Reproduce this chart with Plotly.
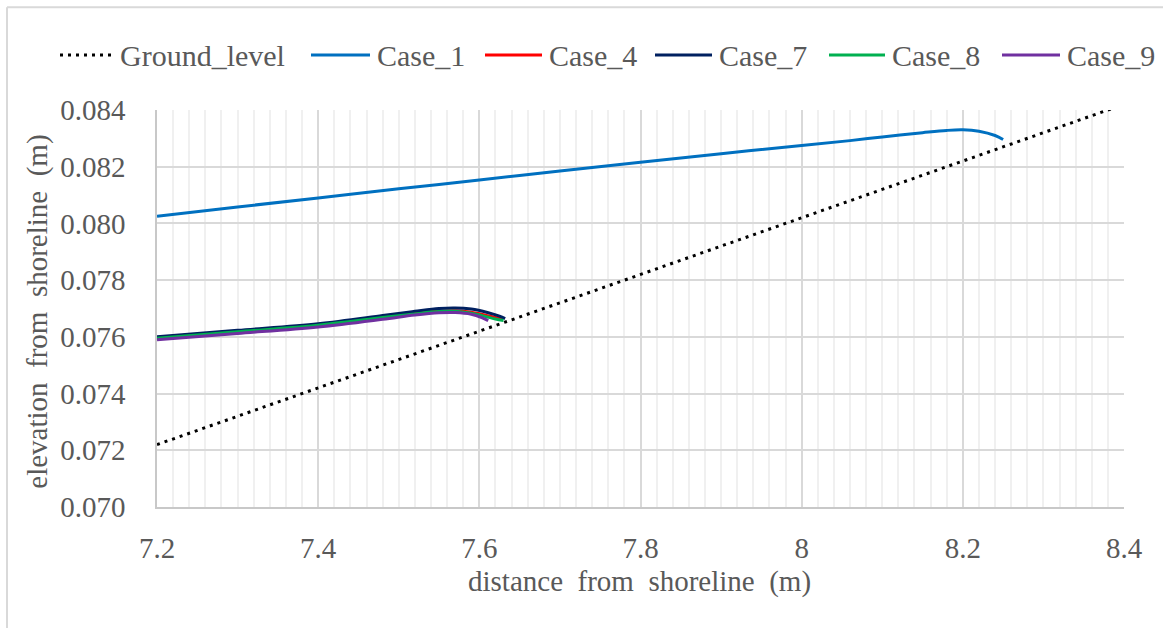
import plotly.graph_objects as go

# ---- data ----
ground_x = [7.2, 8.4]
ground_y = [0.0722, 0.0842]

case1_x = [7.2, 7.3, 7.4, 7.5, 7.6, 7.7, 7.8, 7.9, 8.0, 8.06, 8.1, 8.15, 8.18, 8.2, 8.22, 8.24, 8.25]
case1_y = [0.08025, 0.08058, 0.08090, 0.08122, 0.08153, 0.08185, 0.08216, 0.08246, 0.08275,
           0.08292, 0.08305, 0.08320, 0.08328, 0.08330, 0.08325, 0.08310, 0.08296]

case4_x = [7.2, 7.3, 7.4, 7.48, 7.52, 7.55, 7.57, 7.59, 7.61, 7.62, 7.628]
case4_y = [0.07598, 0.07620, 0.07643, 0.07670, 0.07683, 0.07690, 0.07692, 0.07687, 0.07675, 0.07668, 0.07662]

case7_x = [7.2, 7.3, 7.4, 7.48, 7.52, 7.55, 7.57, 7.59, 7.61, 7.625, 7.632]
case7_y = [0.07600, 0.07623, 0.07646, 0.07675, 0.07690, 0.07700, 0.07702, 0.07698, 0.07686, 0.07673, 0.07664]

case8_x = [7.2, 7.3, 7.4, 7.48, 7.52, 7.55, 7.57, 7.59, 7.61, 7.62, 7.63]
case8_y = [0.07595, 0.07618, 0.07641, 0.07668, 0.07681, 0.07689, 0.07690, 0.07683, 0.07670, 0.07663, 0.07658]

case9_x = [7.2, 7.3, 7.4, 7.48, 7.52, 7.55, 7.57, 7.59, 7.603, 7.611]
case9_y = [0.07590, 0.07612, 0.07635, 0.07662, 0.07677, 0.07685, 0.07686, 0.07680, 0.07668, 0.07657]

x_ticks = [7.2, 7.4, 7.6, 7.8, 8.0, 8.2, 8.4]
x_tick_labels = ["7.2", "7.4", "7.6", "7.8", "8", "8.2", "8.4"]
y_ticks = [0.070, 0.072, 0.074, 0.076, 0.078, 0.080, 0.082, 0.084]
y_tick_labels = ["0.070", "0.072", "0.074", "0.076", "0.078", "0.080", "0.082", "0.084"]

series_names = ["Ground_level", "Case_1", "Case_4", "Case_7", "Case_8", "Case_9"]
series_colors = ["black", "#0070C0", "#FF0000", "#002060", "#00B050", "#7030A0"]

FONT = "Liberation Serif"
TXT = "#595959"
DOT = "3px,5px"

# plot area in pixels (for placing the legend / titles in paper coordinates)
L, R, T, B = 157, 1124, 110, 507.5
W, H = R - L, B - T


def px(xp):
    return (xp - L) / W


def py(yp):
    return (B - yp) / H


fig = go.Figure()
xs = [ground_x, case1_x, case4_x, case7_x, case8_x, case9_x]
ys = [ground_y, case1_y, case4_y, case7_y, case8_y, case9_y]
for i, (name, col) in enumerate(zip(series_names, series_colors)):
    if i == 0:
        line = dict(color=col, width=3, dash=DOT)
    else:
        line = dict(color=col, width=3, shape="spline")
    fig.add_trace(go.Scatter(x=xs[i], y=ys[i], mode="lines", name=name, line=line,
                             showlegend=False))

# legend drawn by hand (line samples are longer than plotly's)
leg_line = [(60, 113), (311, 370), (485, 542), (655, 712), (829, 885), (1002, 1060)]
leg_y = py(55)
shapes = []
annotations = []
for i, (name, col) in enumerate(zip(series_names, series_colors)):
    x0, x1 = leg_line[i]
    shapes.append(dict(type="line", xref="paper", yref="paper", x0=px(x0), x1=px(x1),
                       y0=leg_y, y1=leg_y,
                       line=dict(color=col, width=3, dash=DOT if i == 0 else "solid")))
    annotations.append(dict(text=name, x=px(x1 + 5), y=leg_y, xref="paper", yref="paper",
                            showarrow=False, xanchor="left", yanchor="middle",
                            font=dict(size=30, color=TXT, family=FONT)))

annotations += [
    dict(text="distance  from  shoreline  (m)", x=px(639), y=py(582), xref="paper", yref="paper",
         showarrow=False, xanchor="center", yanchor="middle",
         font=dict(size=29, color=TXT, family=FONT)),
    dict(text="elevation  from  shoreline  (m)", x=px(38), y=py(312), xref="paper", yref="paper",
         showarrow=False, xanchor="center", yanchor="middle", textangle=-90,
         font=dict(size=29, color=TXT, family=FONT)),
]

# outer chart border (only the top and left edges are visible in the crop)
shapes += [
    dict(type="line", xref="paper", yref="paper", x0=px(7), x1=px(7), y0=py(7), y1=py(700),
         line=dict(color="#d9d9d9", width=2)),
    dict(type="line", xref="paper", yref="paper", x0=px(7), x1=px(1200), y0=py(7), y1=py(7),
         line=dict(color="#d9d9d9", width=2)),
]

fig.update_layout(
    width=1163, height=628,
    margin=dict(l=L, r=1163 - R, t=T, b=628 - B, autoexpand=False),
    paper_bgcolor="white", plot_bgcolor="white",
    font=dict(family=FONT, color=TXT, size=29),
    showlegend=False,
    xaxis=dict(range=[7.2, 8.4], tickmode="array", tickvals=x_ticks, ticktext=x_tick_labels,
               showgrid=True, gridcolor="#d9d9d9", gridwidth=1.5,
               minor=dict(dtick=0.02, showgrid=True, gridcolor="#f0f0f0", gridwidth=1.5),
               showline=True, linecolor="#c8c8c8", linewidth=1.5, zeroline=False,
               ticks="", tickfont=dict(size=29, color=TXT, family=FONT), ticklabelstandoff=14),
    yaxis=dict(range=[0.070, 0.084], tickmode="array", tickvals=y_ticks, ticktext=y_tick_labels,
               showgrid=True, gridcolor="#d9d9d9", gridwidth=1.5,
               showline=True, linecolor="#c8c8c8", linewidth=1.5, zeroline=False,
               ticks="", tickfont=dict(size=29, color=TXT, family=FONT), ticklabelstandoff=24),
    annotations=annotations,
    shapes=shapes,
)

fig.write_html("out.html")
